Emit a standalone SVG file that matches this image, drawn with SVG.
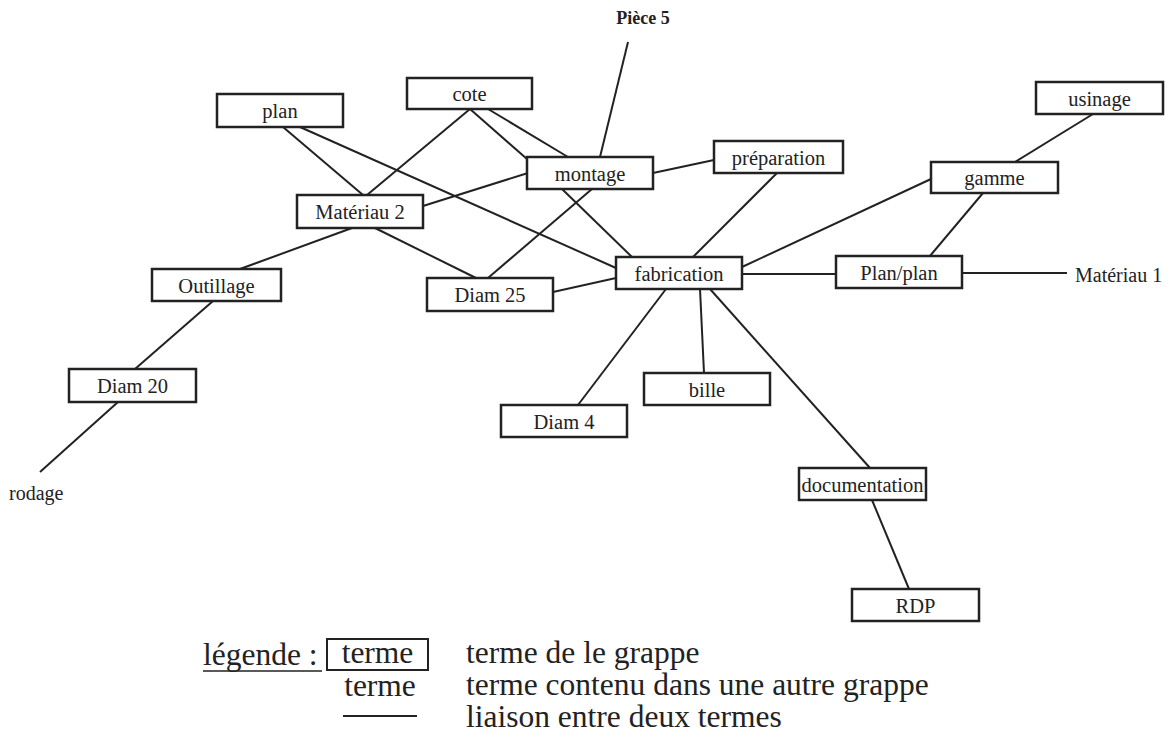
<svg xmlns="http://www.w3.org/2000/svg" width="1169" height="740" viewBox="0 0 1169 740">
<style>
.box{fill:#fff;stroke:#222;stroke-width:2.5}
.lbl{font-family:"Liberation Serif","Times New Roman",serif;font-size:20.5px;fill:#222;text-anchor:middle}
.ext{font-family:"Liberation Serif","Times New Roman",serif;font-size:20px;fill:#222}
.conn line{stroke:#222;stroke-width:2}
.leg{font-family:"Liberation Serif","Times New Roman",serif;font-size:31.5px;fill:#222}
</style>
<rect width="1169" height="740" fill="#fff"/>
<g id="connectors" class="conn">
<line x1="283" y1="127" x2="363" y2="195"/>
<line x1="300" y1="127" x2="616" y2="268"/>
<line x1="470" y1="109" x2="367" y2="195"/>
<line x1="470" y1="109" x2="527" y2="159"/>
<line x1="488" y1="109" x2="568" y2="157"/>
<line x1="628" y1="42" x2="600" y2="157"/>
<line x1="423" y1="206" x2="528" y2="173"/>
<line x1="653" y1="173" x2="714" y2="160"/>
<line x1="592" y1="189" x2="488" y2="278"/>
<line x1="562" y1="189" x2="632" y2="257"/>
<line x1="352" y1="228" x2="240" y2="269"/>
<line x1="375" y1="228" x2="476" y2="278"/>
<line x1="553" y1="292" x2="616" y2="278"/>
<line x1="777" y1="173" x2="693" y2="257"/>
<line x1="931" y1="179" x2="742" y2="267"/>
<line x1="1093" y1="114" x2="1015" y2="162"/>
<line x1="983" y1="193" x2="930" y2="256"/>
<line x1="742" y1="274" x2="836" y2="274"/>
<line x1="962" y1="273" x2="1067" y2="273"/>
<line x1="213" y1="301" x2="135" y2="369"/>
<line x1="118" y1="402" x2="40" y2="472"/>
<line x1="666" y1="289" x2="578" y2="405"/>
<line x1="700" y1="289" x2="704" y2="373"/>
<line x1="710" y1="289" x2="870" y2="468"/>
<line x1="872" y1="500" x2="909" y2="589"/>
</g>
<g id="plan"><rect class="box" x="217" y="94" width="126" height="33"/><text class="lbl" x="280" y="118">plan</text></g>
<g id="cote"><rect class="box" x="407" y="78" width="125" height="31"/><text class="lbl" x="469.5" y="101">cote</text></g>
<g id="montage"><rect class="box" x="527" y="157" width="126" height="32"/><text class="lbl" x="590" y="181">montage</text></g>
<g id="materiau2"><rect class="box" x="297" y="195" width="126" height="33"/><text class="lbl" x="360" y="219">Matériau 2</text></g>
<g id="preparation"><rect class="box" x="714" y="141" width="129" height="32"/><text class="lbl" x="778.5" y="165">préparation</text></g>
<g id="usinage"><rect class="box" x="1036" y="82" width="127" height="32"/><text class="lbl" x="1099.5" y="106">usinage</text></g>
<g id="gamme"><rect class="box" x="931" y="162" width="127" height="31"/><text class="lbl" x="994.5" y="185">gamme</text></g>
<g id="outillage"><rect class="box" x="152" y="269" width="129" height="32"/><text class="lbl" x="216.5" y="293">Outillage</text></g>
<g id="diam25"><rect class="box" x="427" y="278" width="126" height="33"/><text class="lbl" x="490" y="302">Diam 25</text></g>
<g id="fabrication"><rect class="box" x="616" y="257" width="126" height="32"/><text class="lbl" x="679" y="281">fabrication</text></g>
<g id="planplan"><rect class="box" x="836" y="256" width="126" height="32"/><text class="lbl" x="899" y="280">Plan/plan</text></g>
<g id="diam20"><rect class="box" x="69" y="369" width="127" height="33"/><text class="lbl" x="132.5" y="393">Diam 20</text></g>
<g id="bille"><rect class="box" x="644" y="373" width="126" height="32"/><text class="lbl" x="707" y="397">bille</text></g>
<g id="diam4"><rect class="box" x="501" y="405" width="126" height="32"/><text class="lbl" x="564" y="429">Diam 4</text></g>
<g id="documentation"><rect class="box" x="799" y="468" width="127" height="32"/><text class="lbl" x="862.5" y="492">documentation</text></g>
<g id="rdp"><rect class="box" x="852" y="589" width="127" height="32"/><text class="lbl" x="915.5" y="613">RDP</text></g>
<g id="piece5"><text x="643" y="24" style="font-family:'Liberation Serif','Times New Roman',serif;font-size:18px;font-weight:bold;fill:#222;text-anchor:middle">Pièce 5</text></g>
<g id="materiau1"><text class="ext" x="1075" y="282">Matériau 1</text></g>
<g id="rodage"><text class="ext" x="9" y="500">rodage</text></g>
<g id="legend">
<text class="leg" x="203" y="665">légende :</text>
<line x1="203" y1="671" x2="322" y2="671" stroke="#222" stroke-width="1.5"/>
<rect x="327" y="639" width="101" height="31" fill="none" stroke="#222" stroke-width="2"/>
<text class="leg" x="377.5" y="663" text-anchor="middle">terme</text>
<text class="leg" x="466" y="663">terme de le grappe</text>
<text class="leg" x="380" y="696" text-anchor="middle">terme</text>
<text class="leg" x="466" y="695">terme contenu dans une autre grappe</text>
<line x1="343" y1="716" x2="417" y2="716" stroke="#222" stroke-width="2"/>
<text class="leg" x="466" y="727">liaison entre deux termes</text>
</g>
</svg>
